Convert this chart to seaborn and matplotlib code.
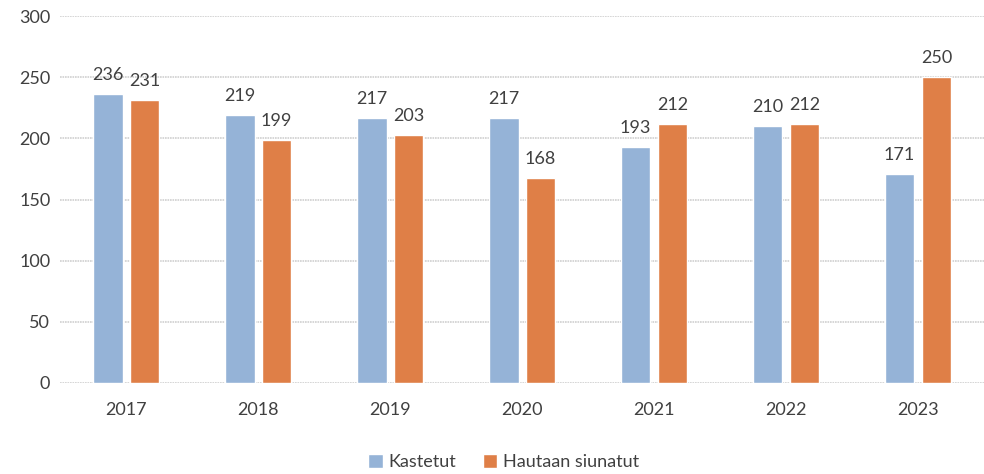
import matplotlib.pyplot as plt
import pandas as pd
import seaborn as sns

years = ["2017", "2018", "2019", "2020", "2021", "2022", "2023"]
kastetut = [236, 219, 217, 217, 193, 210, 171]
hautaan = [231, 199, 203, 168, 212, 212, 250]
series_names = ["Kastetut", "Hautaan siunatut"]

df = pd.DataFrame({
    "Vuosi": years * 2,
    "Määrä": kastetut + hautaan,
    "Sarja": [series_names[0]] * len(years) + [series_names[1]] * len(years),
})

sns.set_style("white")
plt.rcParams["font.family"] = ["Lato", "DejaVu Sans"]

text_color = "#404040"
palette = {"Kastetut": "#95B3D7", "Hautaan siunatut": "#DF7F47"}

fig = plt.figure(figsize=(9.84, 4.74), dpi=100)
ax = fig.add_axes([0.061, 0.192, 0.939, 0.774])

sns.barplot(data=df, x="Vuosi", y="Määrä", hue="Sarja", palette=palette,
            width=0.56, gap=0.19, saturation=1, ax=ax, zorder=3)

ax.set_ylim(0, 300)
ax.set_xlim(-0.5, 6.5)
ax.set_yticks(range(0, 301, 50))
ax.yaxis.grid(True, color="#d0d0d0", linewidth=1.2, linestyle=(0, (1, 0.5)), zorder=0)
sns.despine(left=True, bottom=True)
ax.tick_params(left=False, bottom=False, labelsize=13, colors=text_color)
ax.tick_params(axis="x", pad=10)
ax.set_xlabel("")
ax.set_ylabel("")

for cont in ax.containers:
    for bar in cont:
        h = bar.get_height()
        ax.text(bar.get_x() + bar.get_width() / 2, h + 9, f"{int(h)}",
                ha="center", va="bottom", fontsize=13, color=text_color)

ax.legend(loc="upper center", bbox_to_anchor=(0.48, -0.15), ncol=2,
          frameon=False, fontsize=13, handlelength=0.8, handleheight=0.8,
          handletextpad=0.3, columnspacing=1.5, labelcolor=text_color)

fig.savefig("out.png", dpi=100)
